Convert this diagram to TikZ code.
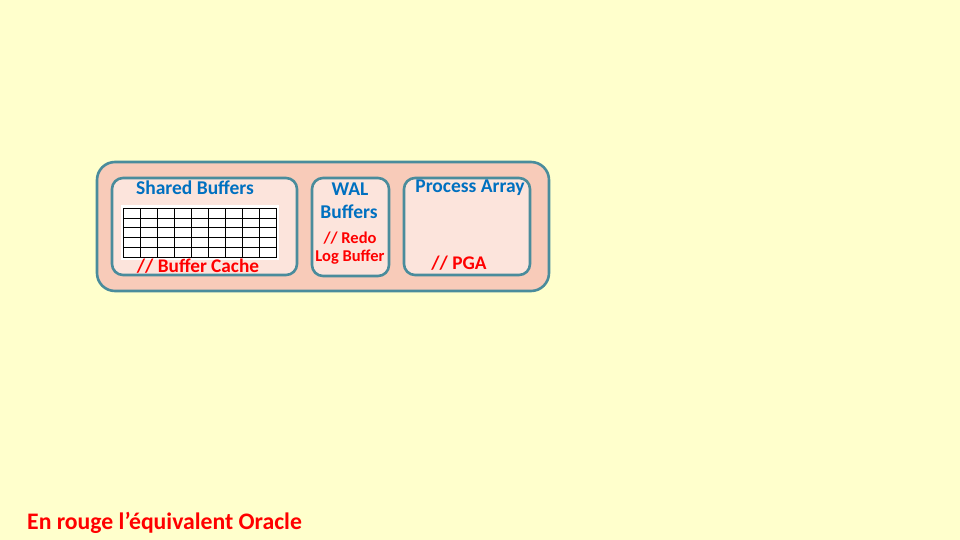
\documentclass[tikz,border=0pt]{standalone}
\usepackage{fontspec}
\setmainfont{Carlito}
\definecolor{bgy}{HTML}{FFFFCC}
\definecolor{outerfill}{HTML}{F8CBB9}
\definecolor{innerfill}{HTML}{FCE4DC}
\definecolor{teal}{HTML}{4A8C9C}
\definecolor{tblue}{HTML}{0070C0}
\definecolor{tred}{HTML}{FF0000}
\begin{document}
\begin{tikzpicture}[x=1pt,y=-1pt,
  outerbox/.style={draw=teal,line width=2.6pt,fill=outerfill,rounded corners=18pt},
  innerbox/.style={draw=teal,line width=2.6pt,fill=innerfill,rounded corners=11pt},
  bluetxt/.style={text=tblue,font=\bfseries\fontsize{19.5}{22}\selectfont,inner sep=0pt},
  redtxt/.style={text=tred,font=\bfseries\fontsize{19.3}{22}\selectfont,inner sep=0pt},
  smallred/.style={text=tred,font=\bfseries\fontsize{16.5}{19}\selectfont,inner sep=0pt}]
\useasboundingbox[fill=bgy] (0,0) rectangle (960,540);
\draw[outerbox] (97,162) rectangle (549,291);
\draw[innerbox] (112,178) rectangle (297,275);
\draw[innerbox] (312,178) rectangle (389,276);
\draw[innerbox] (404,178) rectangle (530,275);
% grid
\fill[white] (121,205) rectangle (279,260);
\draw[black,line width=0.7pt] (123,208) rectangle (276,257.5);
\foreach \i in {1,...,8} \draw[black,line width=0.7pt] ({123+\i*17},208) -- ({123+\i*17},257.5);
\foreach \j in {1,...,4} \draw[black,line width=0.7pt] (123,{208+\j*9.9}) -- (276,{208+\j*9.9});
\node[bluetxt] (sb) at (195,188) {Shared Buffers};
\node[redtxt] (bc) at (198,266) {// Buffer Cache};
\node[bluetxt] (wal) at (350,189) {WAL};
\node[bluetxt] (walb) at (349,212) {Buffers};
\node[smallred] (redo) at (350,238) {// Redo};
\node[smallred] (lb) at (350,257) {Log Buffer};
\node[bluetxt] (pa) at (470,188) {Process Array};
\node[redtxt] (pga) at (459,263) {// PGA};
\node[text=tred,font=\bfseries\fontsize{23.7}{27}\selectfont,inner sep=0pt,anchor=west] (note) at (27,523) {En rouge l’équivalent Oracle};
\end{tikzpicture}
\end{document}
